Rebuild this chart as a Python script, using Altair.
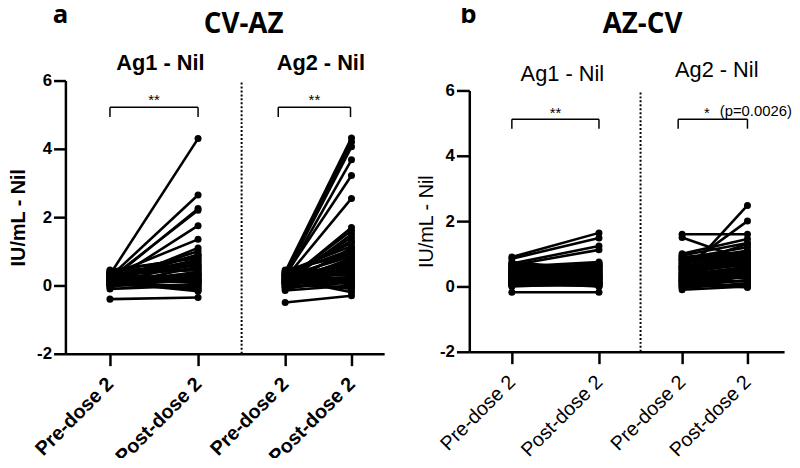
import altair as alt
import pandas as pd

# ---------------- data ----------------
timepoints = ["Pre-dose 2", "Post-dose 2"]
antigens = ["Ag1 - Nil", "Ag2 - Nil"]
panel_titles = {"a": "CV-AZ", "b": "AZ-CV"}

a_ag1_pre = [0.32, 0.25, 0.15, 0.20, 0.10, 0.30, 0.05, 0.18, 0.12, 0.40, 0.45, 0.22,
             0.08, 0.00, 0.28, 0.35, 0.02, -0.05, 0.14, 0.20, 0.10, 0.30, 0.06, 0.16,
             0.24, 0.38, -0.10, 0.12, 0.04, 0.20, 0.09, 0.26, -0.40, 0.18, 0.33,
             0.22, 0.15, 0.35, 0.05, 0.28, 0.10, 0.42, 0.00, 0.18, 0.30]
a_ag1_post = [4.30, 2.65, 2.25, 2.20, 1.75, 1.35, 1.10, 1.00, 0.90, 0.85, 0.80, 0.70,
              0.65, 0.55, 0.50, 0.45, 0.40, 0.35, 0.30, 0.28, 0.25, 0.20, 0.15, 0.12,
              0.10, 0.05, 0.00, -0.05, -0.10, -0.15, -0.17, 0.60, -0.35, 0.08, 0.18,
              0.75, 0.32, 0.48, -0.08, 0.22, 0.38, 0.58, 0.02, 0.90, 0.14]

a_ag2_pre = [0.40, 0.35, 0.30, 0.25, 0.30, 0.20, 0.10, 0.15, 0.05, 0.20, 0.30, 0.00,
             0.12, 0.45, 0.08, 0.22, 0.18, 0.02, -0.05, 0.10, 0.28, 0.15, -0.10, 0.06,
             0.25, 0.35, -0.15, 0.00, 0.12, 0.20, -0.50, 0.40, 0.10, 0.05, 0.32,
             0.30, 0.18, 0.05, 0.40, 0.22, 0.12, -0.05, 0.28, 0.35, 0.08]
a_ag2_post = [4.32, 4.20, 4.06, 3.68, 3.22, 2.55, 1.70, 1.60, 1.50, 1.40, 1.25, 1.10,
              1.00, 0.90, 0.80, 0.70, 0.60, 0.50, 0.45, 0.40, 0.30, 0.25, 0.20, 0.15,
              0.10, 0.05, 0.00, -0.05, -0.10, -0.20, -0.30, 0.35, 0.55, 0.12, 0.02,
              1.30, 0.95, 0.75, 1.15, 0.65, 0.42, 0.08, 0.85, 1.05, 0.22]

b_ag1_pre = [0.90, 0.85, 0.70, 0.65, 0.60, 0.50, 0.55, 0.45, 0.40, 0.35, 0.30, 0.25,
             0.20, 0.15, 0.10, 0.05, 0.00, 0.40, 0.30, 0.50, 0.20, 0.10, 0.60, 0.35,
             0.25, 0.15, 0.70, 0.45, -0.18, 0.05, 0.30, 0.22, 0.12, 0.02, 0.38,
             0.50, 0.62, 0.32, 0.18, 0.08, 0.42, 0.75, 0.28, 0.55, 0.12]
b_ag1_post = [1.64, 1.48, 1.24, 1.12, 0.75, 0.70, 0.60, 0.55, 0.50, 0.45, 0.40, 0.35,
              0.30, 0.25, 0.20, 0.15, 0.10, 0.05, 0.00, 0.65, 0.30, 0.20, 0.45, 0.10,
              0.35, 0.25, 0.55, 0.40, -0.18, 0.02, 0.60, 0.15, 0.08, 0.05, 0.28,
              0.38, 0.48, 0.72, 0.12, 0.22, 0.62, 0.50, 0.32, 0.66, 0.00]

b_ag2_pre = [1.60, 1.50, 0.30, 0.55, 1.00, 0.95, 0.90, 0.85, 0.80, 0.70, 0.60, 0.50,
             0.45, 0.40, 0.35, 0.30, 0.25, 0.20, 0.15, 0.10, 0.05, 0.00, -0.05, -0.10,
             0.65, 0.75, 0.50, 0.40, 0.20, 0.10, 0.30, 0.00, 0.60, 0.85, 0.15,
             0.45, 0.92, 0.72, 0.25, 0.05, 0.62, 0.35, 0.82, 0.18, 0.55]
b_ag2_post = [1.60, 0.80, 2.48, 2.00, 1.45, 1.33, 1.06, 1.00, 0.95, 0.90, 0.85, 0.80,
              0.75, 0.70, 0.60, 0.55, 0.50, 0.45, 0.40, 0.35, 0.30, 0.20, 0.10, 0.00,
              1.30, 1.10, 0.65, 0.25, 0.15, -0.03, 0.50, 0.05, 0.90, 1.20, 0.30,
              0.72, 0.62, 0.98, 0.42, 0.18, 0.88, 0.58, 1.02, 0.35, 0.78]

significance = {"a": ["**", "**"], "b": ["**", "*"]}
p_note = "(p=0.0026)"

# ---------------- layout (positions along each panel's x axis, in px) ----------------
LAYOUT = {
    "a": dict(W=322, H=276, yrange=[276, 0],
              pos={("Ag1 - Nil", "Pre-dose 2"): 45, ("Ag1 - Nil", "Post-dose 2"): 134,
                   ("Ag2 - Nil", "Pre-dose 2"): 222, ("Ag2 - Nil", "Post-dose 2"): 289},
              div=178, br=[(45, 134), (215, 288)], br_y=(5.22, 4.93), star_y=5.42,
              bold=True),
    "b": dict(W=318, H=274, yrange=[274, 10],
              pos={("Ag1 - Nil", "Pre-dose 2"): 43, ("Ag1 - Nil", "Post-dose 2"): 131,
                   ("Ag2 - Nil", "Pre-dose 2"): 215, ("Ag2 - Nil", "Post-dose 2"): 281},
              div=173, br=[(43, 131), (211, 281)], br_y=(5.12, 4.83), star_y=5.32,
              bold=False),
}

series = {
    "a": {"Ag1 - Nil": (a_ag1_pre, a_ag1_post), "Ag2 - Nil": (a_ag2_pre, a_ag2_post)},
    "b": {"Ag1 - Nil": (b_ag1_pre, b_ag1_post), "Ag2 - Nil": (b_ag2_pre, b_ag2_post)},
}

FONT = "Liberation Sans"


def panel(key, letter_xy, title_xy, ag_xy, ytitle_pad, ytick):
    L = LAYOUT[key]
    rows = []
    for ant in antigens:
        pre, post = series[key][ant]
        for i, (p, q) in enumerate(zip(pre, post)):
            for t, v in zip(timepoints, (p, q)):
                rows.append({"pid": f"{ant}-{i}", "antigen": ant, "time": t,
                             "value": v, "x": L["pos"][(ant, t)]})
    d = pd.DataFrame(rows)

    xvals = [L["pos"][(a, t)] for a in antigens for t in timepoints]
    pre_x = [L["pos"][(a, "Pre-dose 2")] for a in antigens]
    label_expr = " || ".join(f"datum.value == {v}" for v in pre_x)
    label_expr = f"({label_expr}) ? 'Pre-dose 2' : 'Post-dose 2'"
    weight = "bold" if L["bold"] else "normal"

    xs = alt.Scale(domain=[0, L["W"]], nice=False, zero=False)
    ys = alt.Scale(domain=[-2, 6], nice=False, zero=False, range=L["yrange"])

    x_axis = alt.Axis(values=xvals, labelExpr=label_expr, labelAngle=-45, labelAlign="right",
                      labelBaseline="middle", labelFontSize=20, labelFont=FONT,
                      labelFontWeight=weight, labelColor="black", labelPadding=15,
                      tickSize=12, tickWidth=2.5, tickColor="black", domainWidth=2.5,
                      domainColor="black", grid=False, title=None, labelOverlap=False)
    y_axis = alt.Axis(values=[-2, 0, 2, 4, 6], labelExpr="'' + datum.value",
                      labelFontSize=17, labelFont=FONT,
                      labelFontWeight="bold", labelColor="black", labelPadding=2,
                      tickSize=ytick, tickWidth=2.5, tickColor="black", domainWidth=2.5,
                      domainColor="black", grid=False, title="IU/mL - Nil",
                      titleFont=FONT, titleFontSize=20, titleFontWeight=weight,
                      titleColor="black", titlePadding=ytitle_pad)
    X = alt.X("x:Q", scale=xs, axis=x_axis)
    Y = alt.Y("value:Q", scale=ys, axis=y_axis)

    lines = alt.Chart(d).mark_line(color="black", strokeWidth=2.6).encode(
        x=X, y=Y, detail="pid:N")
    pts = alt.Chart(d).mark_circle(color="black", opacity=1, size=50).encode(x=X, y=Y)

    div = alt.Chart(pd.DataFrame({"x": [L["div"]], "value": [-2], "v2": [6]})).mark_rule(
        color="black", strokeWidth=2, strokeDash=[2, 2]).encode(x=X, y=Y, y2="v2:Q")

    ytop, ylow = L["br_y"]
    segs = []
    for (x1, x2) in L["br"]:
        segs += [{"x": x1, "x2": x2, "value": ytop, "v2": ytop},
                 {"x": x1, "x2": x1, "value": ylow, "v2": ytop},
                 {"x": x2, "x2": x2, "value": ylow, "v2": ytop}]
    br = alt.Chart(pd.DataFrame(segs)).mark_rule(color="black", strokeWidth=1.5).encode(
        x=X, x2="x2:Q", y=Y, y2="v2:Q")

    stars = pd.DataFrame({"x": [(a + b) / 2 for a, b in L["br"]],
                          "value": [L["star_y"]] * 2, "t": significance[key]})
    if key == "b":
        stars.loc[1, "x"] = 240
    st = alt.Chart(stars).mark_text(font=FONT, fontSize=15, color="black").encode(
        x=X, y=Y, text="t:N")
    layers = [lines, pts, div, br, st]
    if key == "b":
        pn = alt.Chart(pd.DataFrame({"x": [253], "value": [5.36], "t": [p_note]})).mark_text(
            font=FONT, fontSize=15, color="black", align="left").encode(x=X, y=Y, text="t:N")
        layers.append(pn)

    def txt(s, xy, size, w, font=FONT):
        return alt.Chart(pd.DataFrame({"t": [s]})).mark_text(
            font=font, fontSize=size, fontWeight=w, color="black", align="center",
            baseline="middle").encode(text="t:N", x=alt.value(xy[0]), y=alt.value(xy[1]))

    layers.append(txt(key, letter_xy, 26, "bold", "Open Sans"))
    layers.append(txt(panel_titles[key], title_xy, 28, "bold", "Open Sans"))
    for ant, xy in zip(antigens, ag_xy):
        layers.append(txt(ant, xy, 22, weight))

    return alt.layer(*layers).properties(width=L["W"], height=L["H"])


pa = panel("a", (-5, -66), (180, -56), [(96, -18), (258, -18)], 8, 12)
pb = panel("b", (-1, -66), (175, -56), [(94, -7), (250, -11)], 3, 13)

chart = alt.hconcat(pa, pb, spacing=32).properties(
    padding={"left": 0, "top": -8, "right": 0, "bottom": -12},
    background="white",
).configure_view(stroke=None)

chart.save("out.html", embed_options={"renderer": "svg", "actions": False})
